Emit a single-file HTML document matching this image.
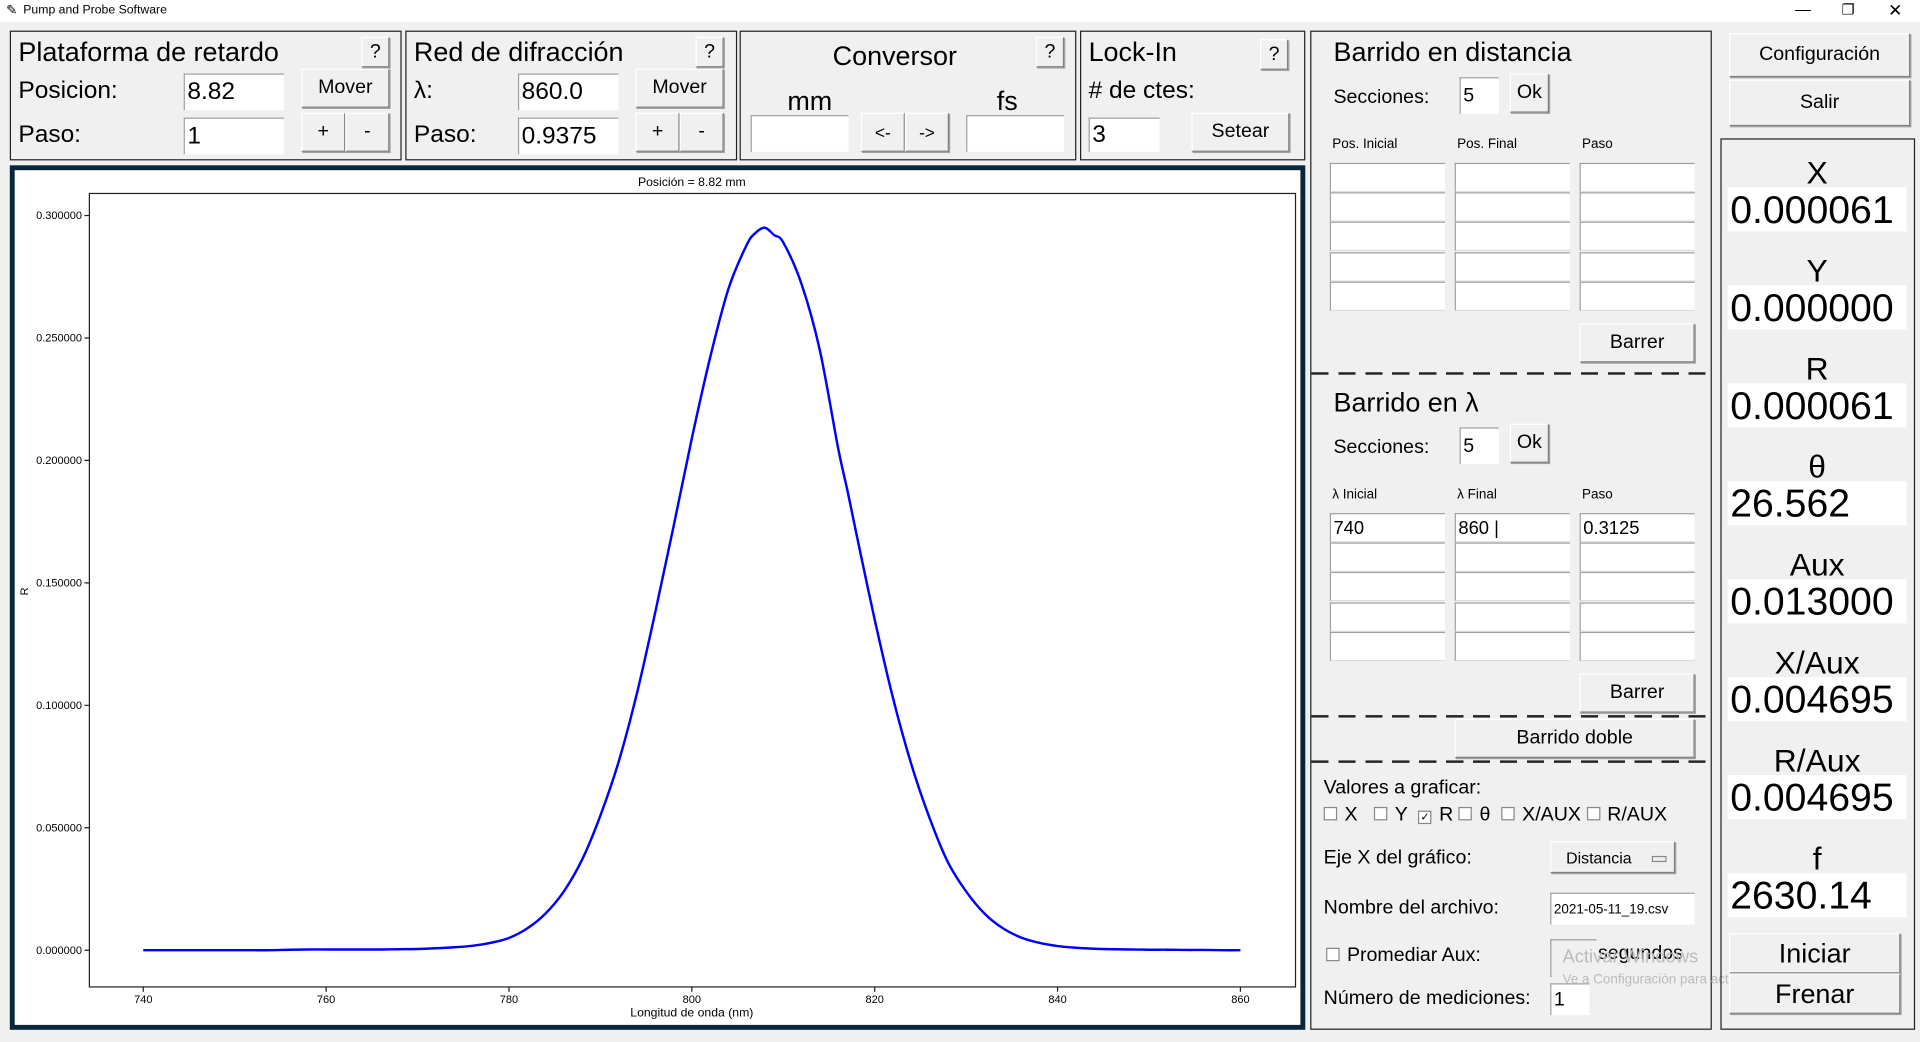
<!DOCTYPE html>
<html><head><meta charset="utf-8">
<style>
html,body{margin:0;padding:0;width:1920px;height:1042px;overflow:hidden;background:#f0f0f0;font-family:"Liberation Sans",sans-serif;}
#root{position:absolute;left:0;top:0;width:1568px;height:851px;transform:scale(1.22449);transform-origin:0 0;background:#f0f0f0;}
.a{position:absolute;white-space:nowrap;color:#000;}
.panel{position:absolute;border:1px solid #222;box-sizing:border-box;}
.btn{position:absolute;box-sizing:border-box;background:#f0f0f0;border:1px solid;border-color:#fff #808080 #808080 #fff;box-shadow:1px 1px 0 #a0a0a0;display:flex;align-items:center;justify-content:center;font-size:16px;}
.ent{position:absolute;box-sizing:border-box;background:#fff;border-top:1px solid #a0a0a0;border-left:1px solid #a0a0a0;font-size:18px;padding-left:2px;display:flex;align-items:center;}
.t22{font-size:22px}
.t20{font-size:20px}
.t16{font-size:16px}
.sm{font-size:11px}
.val{position:absolute;left:1411px;width:146px;height:36px;background:#fff;font-size:32px;line-height:36px;padding-left:2px;box-sizing:border-box;}
.lab{position:absolute;left:1405px;width:158px;text-align:center;font-size:26px;}
.dash{position:absolute;left:1071px;width:325px;height:2px;background:repeating-linear-gradient(90deg,#222 0 14px,transparent 14px 22px);}
.cb{display:inline-block;width:9px;height:9px;border:1px solid #888;background:#fff;margin-right:6px;vertical-align:0px;font-size:9px;line-height:9px;text-align:center;}
</style></head><body>
<div id="root">
<div class="a" style="left:0;top:0;width:1568px;height:18px;background:#fff"></div>
<div class="a" style="left:19px;top:3px;font-size:10px">Pump and Probe Software</div>
<div class="a" style="left:5px;top:2px;font-size:11px">✎</div>
<div class="a" style="left:1466px;top:0px;font-size:13px">—</div>
<div class="a" style="left:1504px;top:1px;font-size:12px">❐</div>
<div class="a" style="left:1542px;top:0px;font-size:14px">✕</div>

<div class="panel" style="left:8px;top:25px;width:320px;height:106px"></div>
<div class="a t22" style="left:15px;top:30px">Plataforma de retardo</div>
<div class="btn" style="left:295px;top:30px;width:23px;height:25px">?</div>
<div class="a t20" style="left:15px;top:63px">Posicion:</div>
<div class="ent t20" style="left:150px;top:60px;width:82px;height:30px">8.82</div>
<div class="btn" style="left:246px;top:56px;width:72px;height:32px">Mover</div>
<div class="a t20" style="left:15px;top:99px">Paso:</div>
<div class="ent t20" style="left:150px;top:96px;width:82px;height:30px">1</div>
<div class="btn" style="left:246px;top:92px;width:36px;height:32px">+</div>
<div class="btn" style="left:282px;top:92px;width:36px;height:32px">-</div>

<div class="panel" style="left:331px;top:25px;width:271px;height:106px"></div>
<div class="a t22" style="left:338px;top:30px">Red de difracción</div>
<div class="btn" style="left:568px;top:30px;width:23px;height:25px">?</div>
<div class="a t20" style="left:338px;top:63px">λ:</div>
<div class="ent t20" style="left:423px;top:60px;width:82px;height:30px">860.0</div>
<div class="btn" style="left:519px;top:56px;width:72px;height:32px">Mover</div>
<div class="a t20" style="left:338px;top:99px">Paso:</div>
<div class="ent t20" style="left:423px;top:96px;width:82px;height:30px">0.9375</div>
<div class="btn" style="left:519px;top:92px;width:36px;height:32px">+</div>
<div class="btn" style="left:555px;top:92px;width:36px;height:32px">-</div>

<div class="panel" style="left:604px;top:25px;width:275px;height:106px"></div>
<div class="a t22" style="left:680px;top:33px">Conversor</div>
<div class="btn" style="left:846px;top:30px;width:23px;height:25px">?</div>
<div class="a t22" style="left:643px;top:70px">mm</div>
<div class="a t22" style="left:814px;top:70px">fs</div>
<div class="ent" style="left:613px;top:94px;width:80px;height:30px"></div>
<div class="btn" style="left:703px;top:92px;width:36px;height:32px;font-size:14px">&lt;-</div>
<div class="btn" style="left:739px;top:92px;width:36px;height:32px;font-size:14px">-&gt;</div>
<div class="ent" style="left:789px;top:94px;width:80px;height:30px"></div>

<div class="panel" style="left:882px;top:25px;width:184px;height:106px"></div>
<div class="a t22" style="left:889px;top:30px">Lock-In</div>
<div class="btn" style="left:1029px;top:32px;width:23px;height:25px">?</div>
<div class="a t20" style="left:889px;top:63px"># de ctes:</div>
<div class="ent t20" style="left:889px;top:96px;width:58px;height:28px">3</div>
<div class="btn" style="left:973px;top:92px;width:80px;height:32px">Setear</div>

<div class="a" style="left:8px;top:135px;width:1058px;height:706px;box-sizing:border-box;border:4px solid #0b2638;background:#fff"></div>
<svg id="chart" class="a" style="left:12px;top:139px" width="1050" height="698"></svg>

<div class="panel" style="left:1070px;top:25px;width:328px;height:816px"></div>
<div class="a t22" style="left:1089px;top:30px">Barrido en distancia</div>
<div class="a t16" style="left:1089px;top:71px">Secciones:</div>
<div class="ent t16" style="left:1192px;top:63px;width:32px;height:30px">5</div>
<div class="btn" style="left:1233px;top:60px;width:32px;height:32px">Ok</div>
<div class="a sm" style="left:1088px;top:112px">Pos. Inicial</div>
<div class="a sm" style="left:1190px;top:112px">Pos. Final</div>
<div class="a sm" style="left:1292px;top:112px">Paso</div>
<div id="grid1"></div>
<div class="btn" style="left:1290px;top:264px;width:94px;height:32px">Barrer</div>
<div class="dash" style="top:304px"></div>
<div class="a t22" style="left:1089px;top:316px">Barrido en λ</div>
<div class="a t16" style="left:1089px;top:357px">Secciones:</div>
<div class="ent t16" style="left:1192px;top:349px;width:32px;height:30px">5</div>
<div class="btn" style="left:1233px;top:346px;width:32px;height:32px">Ok</div>
<div class="a sm" style="left:1088px;top:398px">λ Inicial</div>
<div class="a sm" style="left:1190px;top:398px">λ Final</div>
<div class="a sm" style="left:1292px;top:398px">Paso</div>
<div id="grid2"></div>
<div class="btn" style="left:1290px;top:550px;width:94px;height:32px">Barrer</div>
<div class="dash" style="top:584px"></div>
<div class="btn" style="left:1188px;top:587px;width:196px;height:32px">Barrido doble</div>
<div class="dash" style="top:621px"></div>
<div class="a t16" style="left:1081px;top:635px">Valores a graficar:</div>
<div class="a t16" style="left:1081px;top:657px"><span class="cb"></span>X &nbsp;&nbsp;<span class="cb"></span>Y &nbsp;<span class="cb">✓</span>R <span class="cb"></span>θ &nbsp;<span class="cb"></span>X/AUX <span class="cb"></span>R/AUX</div>
<div class="a t16" style="left:1081px;top:692px">Eje X del gráfico:</div>
<div class="btn" style="left:1266px;top:687px;width:102px;height:26px;font-size:13px;justify-content:flex-start;padding-left:12px">Distancia<span style="position:absolute;right:6px;top:11px;width:10px;height:3px;border:1px solid #888"></span></div>
<div class="a t16" style="left:1081px;top:733px">Nombre del archivo:</div>
<div class="ent" style="left:1266px;top:729px;width:118px;height:26px;font-size:11px">2021-05-11_19.csv</div>
<div class="a t16" style="left:1083px;top:772px"><span class="cb"></span>Promediar Aux:</div>
<div class="ent" style="left:1266px;top:767px;width:38px;height:31px;background:#f0f0f0"></div>
<div class="a t16" style="left:1305px;top:770px">segundos</div>
<div class="a" style="left:1276px;top:773px;font-size:15px;color:#bbb">Activar Windows</div>
<div class="a" style="left:1276px;top:794px;font-size:11px;color:#bbb">Ve a Configuración para activar Windows.</div>
<div class="a t16" style="left:1081px;top:807px">Número de mediciones:</div>
<div class="ent t16" style="left:1266px;top:803px;width:32px;height:26px">1</div>

<div class="btn" style="left:1412px;top:27px;width:148px;height:36px">Configuración</div>
<div class="btn" style="left:1412px;top:65px;width:148px;height:38px">Salir</div>
<div class="panel" style="left:1405px;top:113px;width:159px;height:728px"></div>
<div id="readouts"></div>
<div class="btn" style="left:1412px;top:762px;width:140px;height:33px;font-size:22px">Iniciar</div>
<div class="btn" style="left:1412px;top:795px;width:140px;height:33px;font-size:22px">Frenar</div>
</div>

<script>
const wavelengths = [740,742,744,746,748,750,752,754,756,758,760,762,764,766,768,770,772,774,776,778,780,782,784,786,788,790,792,794,796,798,800,802,804,806,807,808,809,810,812,814,816,817,818,820,822,824,826,828,830,832,834,836,838,840,842,844,846,848,850,852,854,856,858,860];
const rValues = [0,0,0,0,0,0,0,0,0.0002,0.0003,0.0003,0.0003,0.0003,0.0003,0.0004,0.0005,0.0008,0.0012,0.0018,0.0030,0.0050,0.0089,0.015,0.024,0.037,0.055,0.077,0.105,0.138,0.173,0.209,0.242,0.270,0.288,0.293,0.295,0.292,0.289,0.272,0.245,0.205,0.188,0.170,0.135,0.103,0.076,0.054,0.036,0.024,0.015,0.0090,0.0052,0.0030,0.0017,0.0010,0.0006,0.0004,0.0003,0.0002,0.0002,0.0001,0.0001,0,0];
const xTicks = [740,760,780,800,820,840,860];
const yTicks = [0,0.05,0.1,0.15,0.2,0.25,0.3];
const yTickLabels = ["0.000000","0.050000","0.100000","0.150000","0.200000","0.250000","0.300000"];

const NS="http://www.w3.org/2000/svg";
const svg=document.getElementById('chart');
const PL=61,PR=1046,PT=19,PB=667;
function xs(v){return 105+(v-740)*(896/120);}
function ys(v){return 637-v*2000;}
function mk(t,a){const e=document.createElementNS(NS,t);for(const k in a)e.setAttribute(k,a[k]);svg.appendChild(e);return e;}

let title=mk('text',{x:553,y:13,'font-size':10,'text-anchor':'middle','font-family':'Liberation Sans, sans-serif'});
title.textContent='Posición = 8.82 mm';


let frame=mk('rect',{x:PL,y:PT,width:PR-PL,height:PB-PT,fill:'none',stroke:'#222','stroke-width':1});


xTicks.forEach(v=>{
  let t=mk('line',{x1:xs(v),x2:xs(v),y1:PB,y2:PB+4,stroke:'#222'});
  
  
  let l=mk('text',{x:xs(v),y:PB+13,'font-size':9,'text-anchor':'middle','font-family':'Liberation Sans, sans-serif'});
  l.textContent=v;
  
  
});
yTicks.forEach((v,i)=>{
  let t=mk('line',{x1:PL-4,x2:PL,y1:ys(v),y2:ys(v),stroke:'#222'});
  
  
  let l=mk('text',{x:PL-6,y:ys(v)+3,'font-size':9,'text-anchor':'end','font-family':'Liberation Sans, sans-serif'});
  l.textContent=yTickLabels[i];
  
  
});
let xl=mk('text',{x:553,y:691,'font-size':10,'text-anchor':'middle','font-family':'Liberation Sans, sans-serif'});
xl.textContent='Longitud de onda (nm)';


let yl=mk('text',{x:11,y:344,'font-size':9,'text-anchor':'middle','font-family':'Liberation Sans, sans-serif',transform:'rotate(-90 11 344)'});
yl.textContent='R';


const P=wavelengths.map((w,i)=>[xs(w),ys(rValues[i])]);
let d='M'+P[0][0]+','+P[0][1];
for(let i=0;i<P.length-1;i++){
  const p0=P[Math.max(0,i-1)],p1=P[i],p2=P[i+1],p3=P[Math.min(P.length-1,i+2)];
  d+=' C'+(p1[0]+(p2[0]-p0[0])/6)+','+(p1[1]+(p2[1]-p0[1])/6)+' '+(p2[0]-(p3[0]-p1[0])/6)+','+(p2[1]-(p3[1]-p1[1])/6)+' '+p2[0]+','+p2[1];
}
let line=mk('path',{d:d,fill:'none',stroke:'#0000ff','stroke-width':2});



function grid(id,top,vals,prefix){
  const host=document.getElementById(id);
  const cols=[1086,1188,1290];
  for(let r=0;r<5;r++)for(let c=0;c<3;c++){
    const e=document.createElement('div');
    e.className='ent';
    e.style.cssText='left:'+cols[c]+'px;top:'+(top+r*24.2)+'px;width:94px;height:24px;font-size:15px;border-bottom:1px solid #ddd';
    e.textContent=(r===0&&vals)?vals[c]:'';
    
    
    host.appendChild(e);
  }
}
grid('grid1',133,null,'distance-sweep');
grid('grid2',419,['740','860 |','0.3125'],'lambda-sweep');

const rLabels=['X','Y','R','θ','Aux','X/Aux','R/Aux','f'];
const rVals=['0.000061','0.000000','0.000061','26.562','0.013000','0.004695','0.004695','2630.14'];
const ro=document.getElementById('readouts');
rLabels.forEach((l,i)=>{
  const a=document.createElement('div');
  a.className='lab';
  a.style.top=(126+i*80)+'px';
  a.textContent=l;
  
  
  ro.appendChild(a);
  const b=document.createElement('div');
  b.className='val';
  b.style.top=(153+i*80)+'px';
  b.textContent=rVals[i];
  
  
  ro.appendChild(b);
});
</script>
</body></html>
